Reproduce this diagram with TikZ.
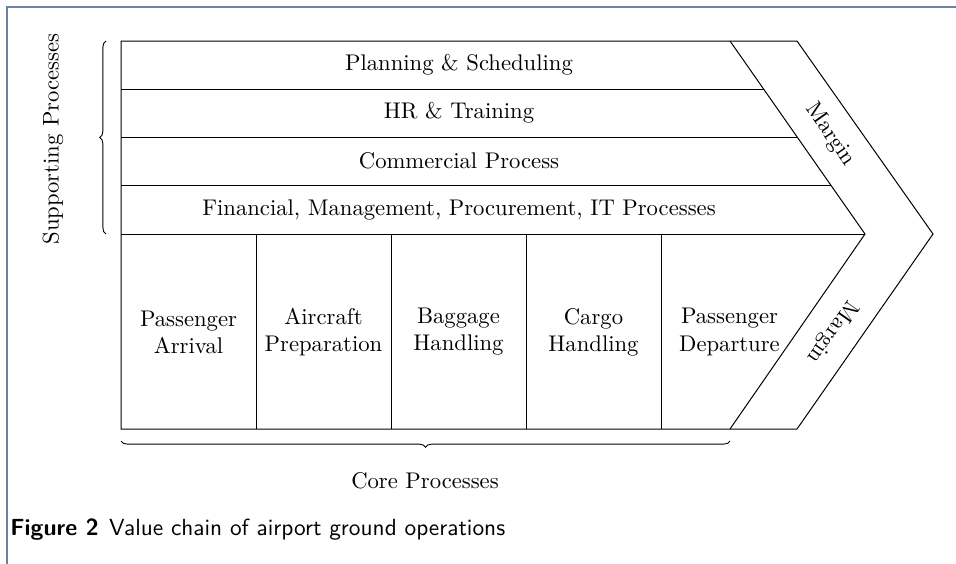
\documentclass[tikz,border=0pt]{standalone}
\usetikzlibrary{decorations.pathreplacing,calc}
\definecolor{framecol}{RGB}{105,130,165}
\begin{document}
\begin{tikzpicture}[x=0.45pt,y=-0.45pt,
  lbl/.style={inner sep=0pt,font=\fontsize{10.2}{12.2}\selectfont},
  core/.style={lbl,align=center},
  bracestyle/.style={decorate,decoration={brace,amplitude=2.8pt},line width=0.4pt},
  outl/.style={line width=0.45pt}]
\useasboundingbox (0,0) rectangle (956,564);
% frame
\draw[framecol,line width=0.8pt] (7,564) -- (7,7) -- (956,7);
% key points
\coordinate (A) at (121,41);
\coordinate (B) at (730,41);
\coordinate (C) at (797,41);
\coordinate (D) at (933,234);
\coordinate (E) at (797,429);
\coordinate (F) at (730,429);
\coordinate (G) at (121,429);
\coordinate (H) at (865,234);
\coordinate (L1) at (121,89);  \coordinate (R1) at (763.6,89);
\coordinate (L2) at (121,137); \coordinate (R2) at (797.2,137);
\coordinate (L3) at (121,185); \coordinate (R3) at (830.7,185);
\coordinate (L4) at (121,234);
\draw[outl] (A) -- (C) -- (D) -- (E) -- (G) -- cycle;
\draw[outl] (B) -- (H) -- (F);
\draw[outl] (L1) -- (R1);
\draw[outl] (L2) -- (R2);
\draw[outl] (L3) -- (R3);
\draw[outl] (L4) -- (H);
\foreach \x/\n in {256/a,391/b,526/c,661/d}{
  \coordinate (T\n) at (\x,234);
  \coordinate (U\n) at (\x,429);
  \draw[outl] (T\n) -- (U\n);
}
% support rows
\node[lbl] (plan) at (459,65) {Planning \& Scheduling};
\node[lbl] (hr) at (459,113) {HR \& Training};
\node[lbl] (comm) at (459,161) {Commercial Process};
\node[lbl] (fin) at (459,210) {Financial, Management, Procurement, IT Processes};
% core
\node[core] (pa) at (188.5,332) {Passenger\\Arrival};
\node[core] (ap) at (323.5,332) {Aircraft\\Preparation};
\node[core] (bh) at (458.5,332) {Baggage\\Handling};
\node[core] (ch) at (593.5,332) {Cargo\\Handling};
\node[core] (pd) at (729.5,332) {Passenger\\Departure};
% margins
\node[lbl,rotate=-55] (m1) at (830,135) {Margin};
\node[lbl,rotate=235] (m2) at (832,332) {Margin};
% braces
\coordinate (sb1) at (106,234);
\coordinate (sb2) at (106,41);
\draw[bracestyle] (sb1) -- (sb2);
\node[lbl,rotate=90] (sup) at (53,139) {Supporting Processes};
\coordinate (cb1) at (730,441);
\coordinate (cb2) at (121,441);
\draw[bracestyle] (cb1) -- (cb2);
\node[lbl] (corep) at (425,481) {Core Processes};
% caption
\node[lbl,anchor=west,font=\fontsize{10.5}{12.5}\selectfont\sffamily] (cap) at (10,530) {\textbf{Figure 2}\hspace{0.45em}Value chain of airport ground operations};
\end{tikzpicture}
\end{document}
